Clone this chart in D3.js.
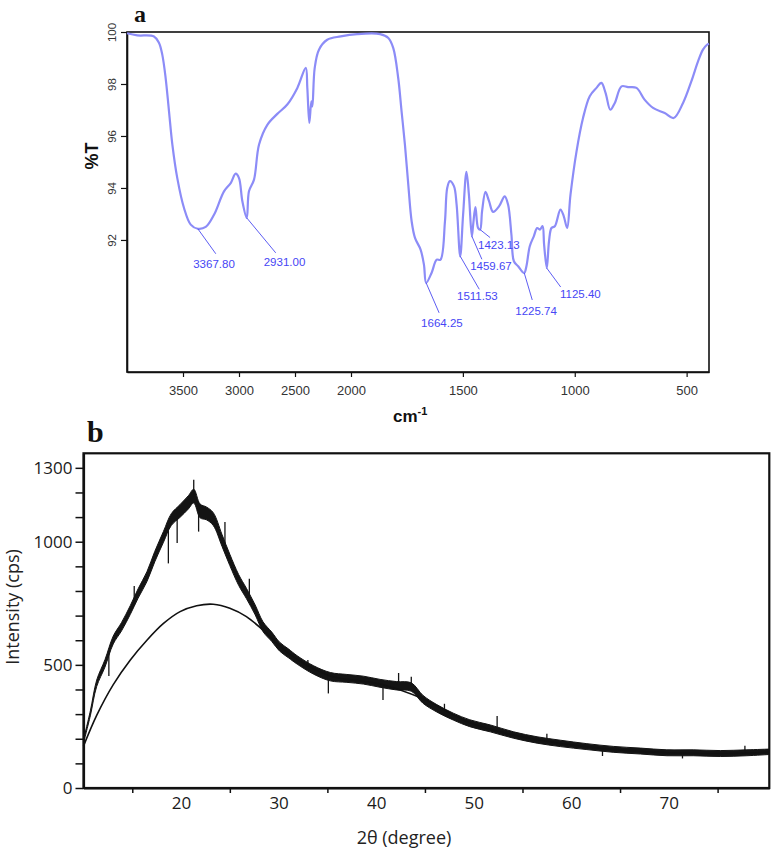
<!DOCTYPE html>
<html>
<head>
<meta charset="utf-8">
<script src="https://cdn.jsdelivr.net/npm/d3@7"></script>
<style>
  html, body { margin: 0; padding: 0; background: #fff; }
  svg { display: block; }
</style>
</head>
<body>
<svg id="chart" width="773" height="862"></svg>
<script>
// ---------------- Panel a: FTIR ----------------
const ftirWavenumber = [4000,3908,3759,3714,3685,3655,3625,3595,3551,3491,3431,3368,3297,3223,3134,3074,3030,3000,2970,2931,2911,2866,2821,2747,2658,2569,2479,2404,2390,2372,2354,2345,2324,2286,2212,2092,1972,1870,1833,1811,1789,1774,1759,1744,1729,1714,1689,1674,1664,1640,1617,1600,1580,1570,1558,1540,1528,1512,1499,1484,1473,1460,1454,1444,1432,1423,1414,1399,1383,1365,1338,1313,1298,1283,1272,1253,1226,1216,1201,1183,1168,1156,1144,1137,1125,1115,1104,1089,1064,1049,1034,1019,992,963,933,903,881,862,841,821,791,762,724,688,650,598,558,516,479,449,427,409,400];
const ftirTransmittance = [99.95,99.87,99.83,99.58,99.13,98.23,96.95,95.67,94.38,93.23,92.59,92.43,92.50,92.97,93.87,94.19,94.55,94.38,93.49,92.85,93.87,94.32,95.67,96.43,96.85,97.21,97.85,98.62,97.85,96.50,97.33,97.14,98.62,99.32,99.70,99.83,99.92,99.92,99.77,99.38,98.23,96.95,95.67,94.13,92.72,92.08,91.63,91.05,90.35,90.73,91.24,91.24,92.72,94.00,94.26,94.07,93.36,91.37,92.97,94.62,93.74,92.14,92.59,93.26,92.46,92.40,93.12,93.85,93.49,93.08,93.30,93.68,93.36,92.20,91.18,90.99,90.73,90.99,91.76,92.14,92.46,92.40,92.53,91.82,90.92,91.95,92.46,92.53,93.17,92.91,92.46,93.74,95.41,96.69,97.53,97.85,98.04,97.65,97.01,97.27,97.91,97.88,97.85,97.40,97.08,96.88,96.69,97.27,98.10,98.87,99.32,99.51,99.55];
const ftirXTicks = [3500,3000,2500,2000,1500,1000,500];
const ftirYTicks = [92,94,96,98,100];
const peakLabels = ["3367.80","2931.00","1664.25","1511.53","1459.67","1423.13","1225.74","1125.40"];
const peakWavenumber = [3367.80,2931.00,1664.25,1511.53,1459.67,1423.13,1225.74,1125.40];
const peakTransmittance = [92.43,92.85,90.35,91.37,92.14,92.40,90.73,90.92];

// ---------------- Panel b: XRD ----------------
const xrdAngle = [10,10.7,11.35,12.2,13.05,13.9,14.8,15.6,16.5,17.3,18.2,19.0,19.9,20.75,21.3,21.95,22.6,23.3,24.2,25.0,25.9,26.7,27.6,28.4,29.3,30.1,31.0,31.9,33.6,35.3,37.0,38.7,40.4,42.1,43.6,44.8,46.2,47.9,49.6,51.7,54.1,56.5,58.9,61.6,64.3,67.1,69.8,72.5,75.3,78.0,80.3];
const xrdIntensity = [190,303,425,506,601,655,723,790,858,939,1020,1090,1125,1160,1185,1125,1115,1092,1005,926,845,790,723,655,614,574,547,520,479,452,445,438,425,415,410,360,324,290,263,242,215,195,181,168,157,150,143,143,140,143,147];
const xrdSpread = [7,10,13,15,16,17,18,19,20,21,22,24,26,27,28,28,26,26,24,23,22,21,20,20,19,18,18,17,17,17,16,16,16,17,17,16,15,14,14,14,13,13,13,12,12,12,12,12,12,12,11];
const spikeAngle = [18.7,21.3,21.8,35.1,40.7,42.3,43.6,52.4,19.6,24.5,27.0,12.6,15.2,33.0,47.0,57.5,63.2,71.4,77.8];
const spikeIntensity = [912,1252,1041,384,357,467,452,292,995,1080,850,455,820,520,342,220,130,120,172];
const fitAngle = [10,11.35,13.05,14.8,16.5,18.2,19.9,21.6,23.3,25.0,26.7,28.4,30.1,31.9,35.3,40.4,44.8,49.6,54.1,58.9,64.3,69.8,75.3,80.3];
const fitIntensity = [170,295,420,520,600,668,716,740,746,730,696,641,578,522,455,422,362,265,215,181,157,143,140,145];
const xrdYTicks = [0,100,200,300,400,500,600,700,800,900,1000,1100,1200,1300];
const xrdYLabels = [0,500,1000,1300];
const xrdXLabels = [20,30,40,50,60,70];
const xrdXMinor = [15,25,35,45,55,65,75];

const svg = d3.select("#chart");

// ===== Panel a =====
const ax = d3.scaleLinear().domain([4000, 2000, 400]).range([127, 351, 709]);
const ay = d3.scaleLinear().domain([86.92, 100]).range([372, 32]);
const ga = svg.append("g");
const afont = "'Liberation Sans', Arial, sans-serif";

ga.append("rect").attr("x", ax(4000)).attr("y", ay(100))
  .attr("width", ax(400) - ax(4000)).attr("height", ay(86.92) - ay(100))
  .attr("fill", "none").attr("stroke", "#111").attr("stroke-width", 1.6);

const axA = ga.append("g").attr("transform", `translate(0,${ay(86.92)})`)
  .call(d3.axisBottom(ax).tickValues(ftirXTicks).tickSize(5).tickSizeOuter(0).tickPadding(9).tickFormat(d3.format("d")));
axA.select(".domain").attr("stroke", "#111").attr("stroke-width", 1.6);
axA.selectAll(".tick line").attr("stroke", "#111").attr("stroke-width", 1.2);
axA.selectAll(".tick text").attr("font-family", afont).attr("font-size", 13).attr("fill", "#333");

const ayA = ga.append("g").attr("transform", `translate(${ax(4000)},0)`)
  .call(d3.axisLeft(ay).tickValues(ftirYTicks).tickSize(6).tickSizeOuter(0).tickFormat(d3.format("d")));
ayA.select(".domain").attr("stroke", "#111").attr("stroke-width", 1.6);
ayA.selectAll(".tick line").attr("stroke", "#111").attr("stroke-width", 1.2);
ayA.selectAll(".tick text")
  .attr("font-family", afont).attr("font-size", 11.5).attr("fill", "#333")
  .attr("x", null).attr("dy", null)
  .attr("text-anchor", "middle")
  .attr("transform", "translate(-11,0) rotate(-90)");

const ftirPts = ftirWavenumber.map((w, i) => [w, ftirTransmittance[i]]);
ga.append("path").datum(ftirPts)
  .attr("fill", "none").attr("stroke", "#8c8cf7").attr("stroke-width", 2.2)
  .attr("stroke-linejoin", "round")
  .attr("d", d3.line().x(d => ax(d[0])).y(d => ay(d[1])).curve(d3.curveCatmullRom.alpha(0.5)));

// peak annotations (leader line end offset and label offset in px, relative to the peak)
const annLayout = [
  {lx: 18, ly: 25, tx: -4.6, ty: 39},
  {lx: 29, ly: 35, tx: 17, ty: 48.3},
  {lx: 13, ly: 30, tx: -5, ty: 43.7},
  {lx: 19, ly: 33, tx: -3.3, ty: 43.3},
  {lx: 10, ly: 23, tx: -1.7, ty: 34},
  {lx: 10, ly: 8, tx: -2, ty: 19.3},
  {lx: 8, ly: 27, tx: -9, ty: 42.3},
  {lx: 14, ly: 19, tx: 13.3, ty: 29.7}
];
peakLabels.forEach((lab, i) => {
  const px = ax(peakWavenumber[i]), py = ay(peakTransmittance[i]);
  const L = annLayout[i];
  ga.append("line").attr("x1", px).attr("y1", py).attr("x2", px + L.lx).attr("y2", py + L.ly)
    .attr("stroke", "#4b4bf0").attr("stroke-width", 0.9);
  ga.append("text").attr("x", px + L.tx).attr("y", py + L.ty)
    .attr("font-family", afont).attr("font-size", 11.5)
    .attr("fill", "#4646f5").text(lab);
});

ga.append("text").attr("transform", "translate(98,156) rotate(-90)")
  .attr("text-anchor", "middle").attr("font-family", afont)
  .attr("font-weight", "bold").attr("font-size", 18).attr("fill", "#111").text("%T");

const cm = ga.append("text").attr("x", 393).attr("y", 422)
  .attr("font-family", afont).attr("font-weight", "bold")
  .attr("font-size", 17).attr("fill", "#111");
cm.append("tspan").text("cm");
cm.append("tspan").attr("font-size", 11).attr("dy", -7).text("-1");

ga.append("text").attr("x", 134).attr("y", 22)
  .attr("font-family", "'Liberation Serif', 'Times New Roman', serif").attr("font-weight", "bold")
  .attr("font-size", 24).attr("fill", "#111").text("a");

// ===== Panel b =====
const bx = d3.scaleLinear().domain([10, 80.3]).range([83.5, 769.3]);
const by = d3.scaleLinear().domain([0, 1359]).range([788, 453.3]);
const gb = svg.append("g");
const bfont = "'Open Sans', 'Noto Sans', sans-serif";

// noisy trace: band between read envelopes, plus the spikes
const xrdPts = xrdAngle.map((a, i) => ({a, v: xrdIntensity[i], s: xrdSpread[i]}));
gb.append("path").datum(xrdPts)
  .attr("fill", "#141414").attr("stroke", "#141414").attr("stroke-width", 1)
  .attr("d", d3.area().x(d => bx(d.a)).y0(d => by(d.v - d.s)).y1(d => by(d.v + d.s)).curve(d3.curveCatmullRom.alpha(0.5)));

const meanAt = a => {
  let i = d3.bisector(d => d).right(xrdAngle, a) - 1;
  i = Math.max(0, Math.min(xrdAngle.length - 2, i));
  const t = (a - xrdAngle[i]) / (xrdAngle[i+1] - xrdAngle[i]);
  return xrdIntensity[i] + t * (xrdIntensity[i+1] - xrdIntensity[i]);
};
spikeAngle.forEach((a, i) => {
  gb.append("line").attr("x1", bx(a)).attr("x2", bx(a))
    .attr("y1", by(meanAt(a))).attr("y2", by(spikeIntensity[i]))
    .attr("stroke", "#141414").attr("stroke-width", 1.3);
});

const fitPts = fitAngle.map((a, i) => [a, fitIntensity[i]]);
gb.append("path").datum(fitPts)
  .attr("fill", "none").attr("stroke", "#111").attr("stroke-width", 1.6)
  .attr("d", d3.line().x(d => bx(d[0])).y(d => by(d[1])).curve(d3.curveCatmullRom.alpha(0.5)));

gb.append("rect").attr("x", bx(10)).attr("y", by(1359))
  .attr("width", bx(80.3) - bx(10)).attr("height", by(0) - by(1359))
  .attr("fill", "none").attr("stroke", "#111").attr("stroke-width", 2.2);

const byAx = gb.append("g").attr("transform", `translate(${bx(10)},0)`)
  .call(d3.axisLeft(by).tickValues(xrdYTicks).tickSize(8).tickSizeOuter(0).tickPadding(3)
    .tickFormat(d => xrdYLabels.includes(d) ? d : ""));
byAx.select(".domain").attr("stroke", "#111").attr("stroke-width", 2.2);
byAx.selectAll(".tick line").attr("stroke", "#111").attr("stroke-width", 1.5);
byAx.selectAll(".tick text").attr("font-family", bfont).attr("font-size", 17).attr("fill", "#1a1a1a");

const bxMinor = gb.append("g").attr("transform", `translate(0,${by(0)})`)
  .call(d3.axisBottom(bx).tickValues(xrdXMinor).tickSize(5).tickSizeOuter(0).tickFormat(""));
bxMinor.select(".domain").attr("stroke", "#111").attr("stroke-width", 2.2);
bxMinor.selectAll(".tick line").attr("stroke", "#111").attr("stroke-width", 1.5);

const bxLab = gb.append("g").attr("transform", `translate(0,${by(0)})`)
  .call(d3.axisBottom(bx).tickValues(xrdXLabels).tickSize(0).tickSizeOuter(0).tickPadding(9));
bxLab.select(".domain").remove();
bxLab.selectAll(".tick text").attr("font-family", bfont).attr("font-size", 17).attr("fill", "#1a1a1a");

gb.append("text").attr("x", 404).attr("y", 844).attr("text-anchor", "middle")
  .attr("font-family", bfont).attr("font-size", 18).attr("fill", "#222").text("2θ (degree)");
gb.append("text").attr("transform", "translate(19,607) rotate(-90)").attr("text-anchor", "middle")
  .attr("font-family", bfont).attr("font-size", 18).attr("fill", "#222").text("Intensity (cps)");

gb.append("text").attr("x", 87).attr("y", 442)
  .attr("font-family", "'Liberation Serif', 'Times New Roman', serif").attr("font-weight", "bold")
  .attr("font-size", 30).attr("fill", "#111").text("b");
</script>
</body>
</html>
